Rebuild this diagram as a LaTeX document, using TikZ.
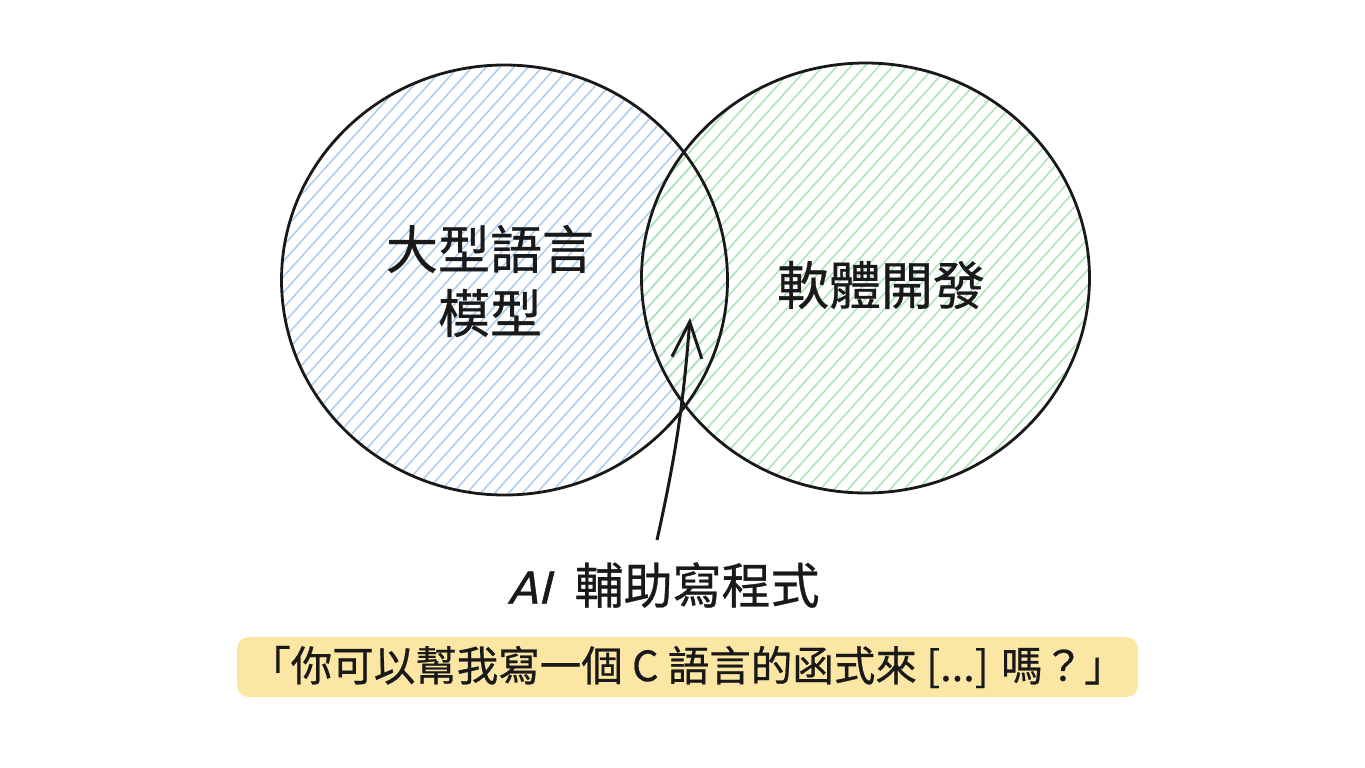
\documentclass[tikz,border=0pt]{standalone}
\usepackage{fontspec}
\newfontfamily\cjk[FakeBold=0.6]{Noto Sans CJK TC}
\newfontfamily\hand[FakeSlant=0.25,FakeBold=1]{DejaVu Sans}
\usetikzlibrary{arrows.meta}
\definecolor{hblue}{HTML}{A9CDEE}
\definecolor{hgreen}{HTML}{ABE4B4}
\definecolor{boxyellow}{HTML}{FBE6A4}
\tikzset{
  ring/.style={draw=black!90, line width=2.8pt},
  bluehatch/.style={draw=hblue, line width=1.5pt},
  greenhatch/.style={draw=hgreen, line width=1.5pt},
  bigtext/.style={font=\cjk\fontsize{52pt}{64pt}\selectfont, align=center, text=black!90},
  labeltext/.style={font=\cjk\fontsize{49pt}{56pt}\selectfont, text=black!90},
  quotebox/.style={fill=boxyellow, rounded corners=12pt, minimum width=901pt, minimum height=60pt, inner sep=0pt, font=\cjk\fontsize{41.5pt}{46pt}\selectfont, text=black!90},
  pointer/.style={draw=black!90, line width=3pt, -{Straight Barb[length=36pt, width=30pt, line width=3pt]}}
}
\begin{document}
\begin{tikzpicture}[x=1pt,y=-1pt]
\useasboundingbox (0,0) rectangle (1365,768);
\fill[white] (0,0) rectangle (1365,768);
% left hatching
\begin{scope}
\clip (504.5,280) ellipse [x radius=222pt, y radius=214pt];
\foreach \s in {-546,-532,...,546} {
  \draw[bluehatch] (504.5+\s-270,280+300) -- (504.5+\s+270,280-300);
}
\end{scope}
% right hatching (aligned with the left one)
\begin{scope}
\clip (865.5,278) ellipse [x radius=223pt, y radius=214pt];
\foreach \s in {-196,-182,...,910} {
  \draw[greenhatch] (504.5+\s-270,280+300) -- (504.5+\s+270,280-300);
}
\end{scope}
% rings
\draw[ring] (504.5,280) ellipse [x radius=223pt, y radius=215pt];
\draw[ring] (865.5,278) ellipse [x radius=224pt, y radius=215pt];
% labels
\node[bigtext] (llm) at (490,281) {大型語言\\模型};
\node[bigtext] (soft) at (881,285) {軟體開發};
% arrow
\coordinate (tail) at (657,540);
\coordinate (tip) at (690,318);
\draw[pointer] (tail) to[bend right=4] (tip);
% AI label
\node[labeltext, anchor=west] (ai) at (504,585) {{\hand\fontsize{44pt}{48pt}\selectfont AI}\hspace{24pt}輔助寫程式};
% quote box
\node[quotebox] (quote) at (687.5,667) {「你可以幫我寫一個 C 語言的函式來 [...] 嗎？」};
\end{tikzpicture}
\end{document}
